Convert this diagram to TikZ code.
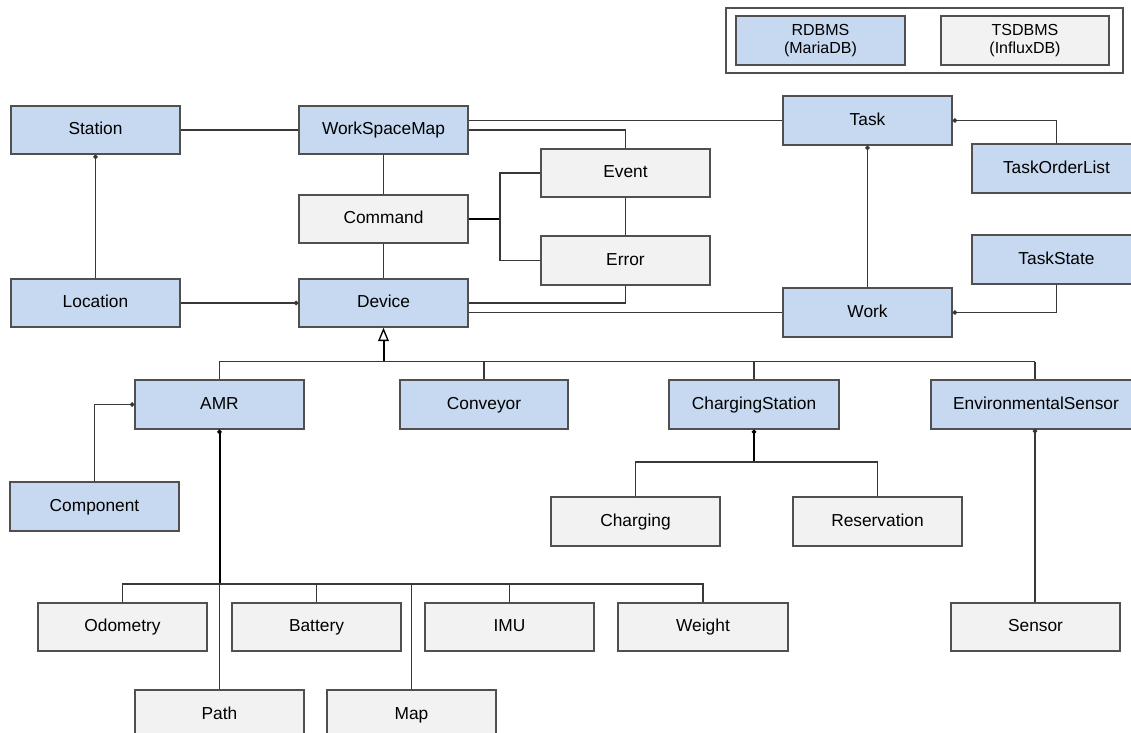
\documentclass[tikz,border=0pt]{standalone}
\usepackage{fontspec}
\setmainfont{Liberation Sans}
\usetikzlibrary{arrows.meta}
\definecolor{dbblue}{HTML}{C6D9F1}
\definecolor{dbgray}{HTML}{F2F2F2}
\definecolor{bord}{HTML}{505050}
\definecolor{conn}{HTML}{383838}
\newcommand\bx[7]{\node[#6, minimum width={(#4-#2)*0.75pt}, minimum height={(#5-#3)*0.75pt}] (#1) at ({(#2+#4)/2},{(#3+#5)/2}) {#7};}
\tikzset{
  basebox/.style={draw=bord, line width=1.1pt, inner sep=0pt, font=\fontsize{13}{15}\selectfont},
  rbox/.style={basebox, fill=dbblue, text height=9.4pt, text depth=2.6pt},
  tbox/.style={basebox, fill=dbgray, text height=9.4pt, text depth=2.6pt},
  lrbox/.style={basebox, fill=dbblue, align=center, font=\fontsize{12}{14}\selectfont},
  ltbox/.style={basebox, fill=dbgray, align=center, font=\fontsize{12}{14}\selectfont},
  lnk/.style={draw=conn, line width=1pt},
  thk/.style={draw=black, line width=1.5pt},
  comp/.style={-{Circle[length=3.2pt]}},
  inh/.style={-{Triangle[open,length=10pt,width=8pt,fill=white,line width=1pt]}}
}
\begin{document}
\begin{tikzpicture}[x=0.75pt,y=-0.75pt]
\path[use as bounding box, fill=white] (0,0) rectangle (1131,732);
\clip (0,0) rectangle (1131,732);
% legend
\node[draw=bord, line width=1pt, minimum width={397*0.75pt}, minimum height={65*0.75pt}, inner sep=0pt] (legend) at (924.5,40.5) {};
\bx{rdb}{736}{16}{905}{65}{lrbox}{RDBMS\\(MariaDB)}
\bx{tsdb}{941}{16}{1109}{65}{ltbox}{TSDBMS\\(InfluxDB)}
% nodes
\bx{station}{11}{106}{180}{154}{rbox}{Station}
\bx{wsm}{299}{106}{468}{154}{rbox}{WorkSpaceMap}
\bx{command}{299}{195}{468}{243}{tbox}{Command}
\bx{location}{11}{279}{180}{327}{rbox}{Location}
\bx{device}{299}{279}{468}{327}{rbox}{Device}
\bx{event}{541}{149}{710}{197}{tbox}{Event}
\bx{error}{541}{236}{710}{285}{tbox}{Error}
\bx{task}{783}{96}{952}{145}{rbox}{Task}
\bx{tol}{972}{144}{1141}{193}{rbox}{TaskOrderList}
\bx{tstate}{972}{235}{1141}{284}{rbox}{TaskState}
\bx{work}{783}{288}{952}{337}{rbox}{Work}
\bx{amr}{135}{380}{304}{429}{rbox}{AMR}
\bx{conveyor}{400}{380}{568}{429}{rbox}{Conveyor}
\bx{cs}{669}{380}{839}{429}{rbox}{ChargingStation}
\bx{es}{931}{380}{1141}{429}{rbox}{EnvironmentalSensor}
\bx{component}{10}{482}{179}{531}{rbox}{Component}
\bx{charging}{551}{497}{720}{546}{tbox}{Charging}
\bx{reservation}{793}{497}{962}{546}{tbox}{Reservation}
\bx{odometry}{38}{603}{207}{651}{tbox}{Odometry}
\bx{battery}{232}{603}{401}{651}{tbox}{Battery}
\bx{imu}{425}{603}{594}{651}{tbox}{IMU}
\bx{weight}{618}{603}{788}{651}{tbox}{Weight}
\bx{sensor}{951}{603}{1120}{651}{tbox}{Sensor}
\bx{path}{135}{690}{304}{739}{tbox}{Path}
\bx{map}{327}{690}{496}{739}{tbox}{Map}
% helper coordinates
\coordinate (cmdj) at (500,219);
\coordinate (bus1) at (383.5,361.7);
\coordinate (esbus) at (1035,361.7);
\coordinate (estop) at (1035,429);
\coordinate (amrbus) at (219.5,584);
\coordinate (csj) at (754,462);
% connectors
\draw[lnk] (station.east) -- (wsm.west);
\draw[lnk,comp] (location.north) -- (station.south);
\draw[lnk,comp] (location.east) -- (device.west);
\draw[lnk] (wsm.south) -- (command.north);
\draw[lnk] (command.south) -- (device.north);
\draw[lnk] (wsm.east |- task.west) -- (task.west);
\draw[lnk] (wsm.east) -| (event.north);
\draw[thk] (command.east) -- (cmdj);
\draw[lnk] (event.west) -| (cmdj) |- (error.west);
\draw[lnk] (event.south) -- (error.north);
\draw[lnk] (error.south) |- (device.east);
\draw[lnk] (device.east |- work.west) -- (work.west);
\draw[lnk,comp] (work.north) -- (task.south);
\draw[lnk,comp] (tol.north) |- (task.east);
\draw[lnk,comp] (tstate.south) |- (work.east);
% inheritance
\draw[thk,inh] (bus1) -- (device.south);
\draw[lnk] (amr.north) |- (esbus);
\draw[lnk] (conveyor.north) -- (conveyor.north |- bus1);
\draw[lnk] (cs.north) -- (cs.north |- bus1);
\draw[lnk] (esbus) -- (es.north -| esbus);
% AMR composition
\draw[lnk,comp] (component.north) |- (amr.west);
\draw[thk,comp] (amrbus) -- (amr.south);
\draw[lnk] (odometry.north) |- (weight.north |- amrbus) -- (weight.north);
\draw[lnk] (battery.north) -- (battery.north |- amrbus);
\draw[lnk] (imu.north) -- (imu.north |- amrbus);
\draw[lnk] (amrbus) -- (path.north);
\draw[lnk] (map.north) -- (map.north |- amrbus);
% charging station
\draw[thk,comp] (csj) -- (cs.south);
\draw[lnk] (charging.north) |- (csj) -| (reservation.north);
% sensor
\draw[lnk,comp] (sensor.north -| estop) -- (estop);
\end{tikzpicture}
\end{document}
